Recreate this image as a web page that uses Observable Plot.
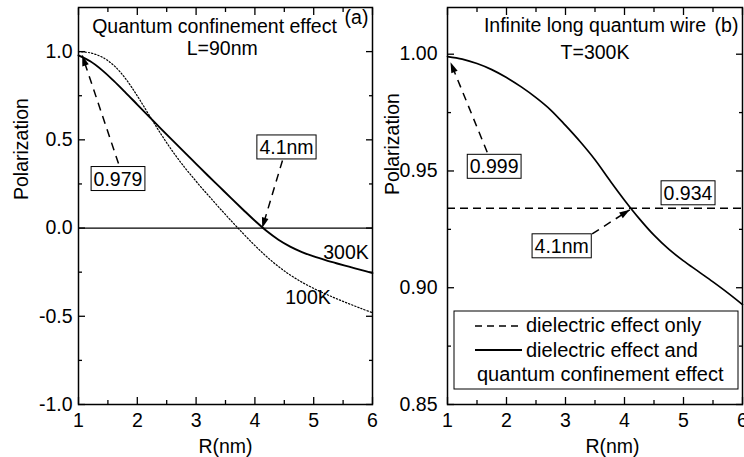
<!DOCTYPE html>
<html><head><meta charset="utf-8">
<script src="https://cdn.jsdelivr.net/npm/d3@7"></script>
<script src="https://cdn.jsdelivr.net/npm/@observablehq/plot@0.6"></script>
<style>
body{margin:0;background:#fff;}
#wrap{position:relative;width:744px;height:457px;overflow:hidden;font-family:"Liberation Sans",Arial,Helvetica,sans-serif;}
#wrap > svg{position:absolute;top:0;}
</style></head><body><div id="wrap"></div>
<script>
// ---------- data ----------
const xTicks = [1, 2, 3, 4, 5, 6];
const xTickLabels = ["1", "2", "3", "4", "5", "6"];
const xMinor = [1.5, 2.5, 3.5, 4.5, 5.5];

// (a) panel
const yTicksL = [-1, -0.5, 0, 0.5, 1];
const yTickLabelsL = ["-1.0", "-0.5", "0.0", "0.5", "1.0"];
const yMinorL = [-0.75, -0.25, 0.25, 0.75];
const R300 = [1.0,1.2,1.4,1.6,1.8,2.0,2.2,2.4,2.6,2.8,3.0,3.2,3.4,3.6,3.8,4.0,4.2,4.4,4.6,4.8,5.0,5.2,5.4,5.6,5.8,6.0];
const P300 = [0.979,0.945,0.895,0.834,0.768,0.700,0.632,0.564,0.497,0.430,0.364,0.298,0.233,0.168,0.104,0.041,-0.017,-0.066,-0.105,-0.136,-0.161,-0.182,-0.201,-0.219,-0.237,-0.255];
const R100 = [1.0,1.2,1.4,1.6,1.8,2.0,2.2,2.4,2.6,2.8,3.0,3.2,3.4,3.6,3.8,4.0,4.2,4.4,4.6,4.8,5.0,5.2,5.4,5.6,5.8,6.0];
const P100 = [1.0,0.993,0.969,0.922,0.847,0.749,0.641,0.534,0.435,0.346,0.265,0.188,0.113,0.040,-0.031,-0.099,-0.162,-0.218,-0.266,-0.307,-0.342,-0.373,-0.402,-0.429,-0.455,-0.480];
const labelTextL = ["Quantum confinement effect", "L=90nm", "(a)", "300K", "100K"];
const labelRL = [3.313, 3.444, 5.728, 5.549, 4.903];
const labelPL = [1.103, 0.978, 1.154, -0.178, -0.433];
const boxTextL = ["0.979", "4.1nm"];
const boxRL = [1.672, 4.537];
const boxPL = [0.241, 0.420];
const arrowFromRL = [1.680, 4.469], arrowFromPL = [0.366, 0.383];
const arrowToRL = [1.063, 4.124], arrowToPL = [0.978, 0.0];

// (b) panel
const yTicksR = [0.85, 0.90, 0.95, 1.00];
const yTickLabelsR = ["0.85", "0.90", "0.95", "1.00"];
const yMinorR = [0.875, 0.925, 0.975];
const dielectricOnly = 0.934;
const RQ = [1.0,1.25,1.5,1.75,2.0,2.25,2.5,2.75,3.0,3.25,3.5,3.75,4.0,4.25,4.5,4.75,5.0,5.25,5.5,5.75,6.0];
const PQ = [0.999,0.9979,0.9960,0.9934,0.9900,0.9860,0.9814,0.9761,0.9695,0.9625,0.9548,0.9460,0.9375,0.9296,0.9225,0.9165,0.9115,0.9070,0.9025,0.8978,0.8928];
const labelTextR = ["Infinite long quantum wire", "T=300K", "(b)"];
const labelRR = [3.5, 3.5, 5.729];
const labelPR = [1.00947, 0.99795, 1.00972];
const boxTextR = ["0.999", "0.934", "4.1nm"];
const boxRR = [1.791, 5.076, 2.935];
const boxPR = [0.949, 0.93766, 0.91496];
const arrowFromRR = [1.673, 3.452], arrowFromPR = [0.95804, 0.92309];
const arrowToRR = [1.051, 4.09], arrowToPR = [0.99658, 0.93337];
const legendLabels = ["dielectric effect only", "dielectric effect and", "quantum confinement effect"];

// ---------- helpers ----------
const FONT = '"Liberation Sans", Arial, Helvetica, sans-serif';
const FS = 19.5;
const H = 457, MT = 7, MB = 53;
const zipXY = (xs, ys) => xs.map((x, i) => ({x, y: ys[i]}));
const head = {draw(ctx) { ctx.moveTo(0, 0); ctx.lineTo(-3.4, 10.5); ctx.lineTo(3.4, 10.5); ctx.closePath(); }};

function arrows(fromR, fromP, toR, toP, xr, yDom) {
  const xs = Plot.scale({x: {domain: [1, 6], range: xr}});
  const ys = Plot.scale({y: {domain: yDom, range: [H - MB, MT]}});
  return fromR.map((r, i) => {
    const dx = xs.apply(toR[i]) - xs.apply(r);
    const dy = ys.apply(toP[i]) - ys.apply(fromP[i]);
    return {x1: r, y1: fromP[i], x2: toR[i], y2: toP[i], a: Math.atan2(dx, -dy) * 180 / Math.PI};
  });
}

function panel({width, ml, mr, yDom, yT, yTL, yMin, yPad, curves, labels, boxes, arr, yLab, xLab}) {
  return Plot.plot({
    width, height: H, marginTop: MT, marginBottom: MB, marginLeft: ml, marginRight: mr,
    style: {fontFamily: FONT, fontSize: FS + "px", background: "transparent", color: "black", overflow: "visible"},
    x: {domain: [1, 6]},
    y: {domain: yDom},
    marks: [
      ...curves,
      Plot.link(arr, {x1: "x1", y1: "y1", x2: "x2", y2: "y2", stroke: "black", strokeWidth: 1.5, strokeDasharray: "8,6"}),
      Plot.dot(arr, {x: "x2", y: "y2", rotate: "a", symbol: head, fill: "black", stroke: null, r: 5}),
      Plot.text(labels, {x: "x", y: "y", text: "t", textAnchor: "middle", lineAnchor: "bottom", fill: "black"}),
      Plot.text(boxes, {x: "x", y: "y", text: "t", textAnchor: "middle", lineAnchor: "bottom", fill: "black"}),
      Plot.frame({stroke: "black", strokeWidth: 1.5}),
      Plot.axisX(xTicks, {anchor: "bottom", tickSize: -7, tickFormat: () => "", label: null, strokeWidth: 1.3}),
      Plot.axisX(xMinor, {anchor: "bottom", tickSize: -4, tickFormat: () => "", label: null, strokeWidth: 1.3}),
      Plot.axisX(xTicks, {anchor: "top", tickSize: -7, tickFormat: () => "", label: null, strokeWidth: 1.3}),
      Plot.axisX(xMinor, {anchor: "top", tickSize: -4, tickFormat: () => "", label: null, strokeWidth: 1.3}),
      Plot.axisY(yT, {anchor: "left", tickSize: -7, tickFormat: () => "", label: null, strokeWidth: 1.3}),
      Plot.axisY(yMin, {anchor: "left", tickSize: -4, tickFormat: () => "", label: null, strokeWidth: 1.3}),
      Plot.axisY(yT, {anchor: "right", tickSize: -7, tickFormat: () => "", label: null, strokeWidth: 1.3}),
      Plot.axisY(yMin, {anchor: "right", tickSize: -4, tickFormat: () => "", label: null, strokeWidth: 1.3}),
      Plot.axisX(xTicks, {anchor: "bottom", tickSize: 0, tickPadding: 9, label: null, tickFormat: (d) => xTickLabels[xTicks.indexOf(d)], fill: "black"}),
      Plot.axisY(yT, {anchor: "left", tickSize: 0, tickPadding: yPad, label: null, tickFormat: (d) => yTL[yT.indexOf(d)], fill: "black"}),
      Plot.text(["Polarization"], {frameAnchor: "left", rotate: -90, dx: yLab[0], dy: yLab[1], fill: "black"}),
      Plot.text(["R(nm)"], {frameAnchor: "bottom", lineAnchor: "bottom", dx: xLab[0], dy: xLab[1], fill: "black"})
    ]
  });
}

function boxify(svg, names) {
  svg.querySelectorAll("text").forEach(t => {
    if (!names.includes(t.textContent)) return;
    const b = t.getBBox();
    const r = document.createElementNS("http://www.w3.org/2000/svg", "rect");
    r.setAttribute("x", b.x - 2.5); r.setAttribute("y", b.y - 1);
    r.setAttribute("width", b.width + 5); r.setAttribute("height", b.height + 2);
    r.setAttribute("fill", "white"); r.setAttribute("stroke", "black"); r.setAttribute("stroke-width", 1);
    if (t.getAttribute("transform")) r.setAttribute("transform", t.getAttribute("transform"));
    t.parentNode.insertBefore(r, t);
  });
}

const wrap = document.getElementById("wrap");

// ---------- panel (a) ----------
const WL = 373, MLL = 78, MRL = 1;
const left = panel({
  width: WL, ml: MLL, mr: MRL, yDom: [-1, 1.25], yT: yTicksL, yTL: yTickLabelsL, yMin: yMinorL, yPad: 6,
  curves: [
    Plot.ruleY([0], {stroke: "black", strokeWidth: 1.2}),
    Plot.line(zipXY(R100, P100), {x: "x", y: "y", stroke: "black", strokeWidth: 1.2, strokeDasharray: "1.3,2", curve: "catmull-rom"}),
    Plot.line(zipXY(R300, P300), {x: "x", y: "y", stroke: "black", strokeWidth: 1.9, curve: "catmull-rom"})
  ],
  labels: labelTextL.map((t, i) => ({t, x: labelRL[i], y: labelPL[i]})),
  boxes: boxTextL.map((t, i) => ({t, x: boxRL[i], y: boxPL[i]})),
  arr: arrows(arrowFromRL, arrowFromPL, arrowToRL, arrowToPL, [MLL, WL - MRL], [-1, 1.25]),
  yLab: [-57, -6], xLab: [0, 48]
});
left.style.left = "0px";
wrap.appendChild(left);

// ---------- panel (b) ----------
const WR = 371, MLR = 74, MRR = 2;
const right = panel({
  width: WR, ml: MLR, mr: MRR, yDom: [0.85, 1.02], yT: yTicksR, yTL: yTickLabelsR, yMin: yMinorR, yPad: 10,
  curves: [
    Plot.ruleY([dielectricOnly], {stroke: "black", strokeWidth: 1.5, strokeDasharray: "8,5"}),
    Plot.line(zipXY(RQ, PQ), {x: "x", y: "y", stroke: "black", strokeWidth: 1.7, curve: "catmull-rom"})
  ],
  labels: labelTextR.map((t, i) => ({t, x: labelRR[i], y: labelPR[i]})),
  boxes: boxTextR.map((t, i) => ({t, x: boxRR[i], y: boxPR[i]})),
  arr: arrows(arrowFromRR, arrowFromPR, arrowToRR, arrowToPR, [MLR, WR - MRR], [0.85, 1.02]),
  yLab: [-55, -11], xLab: [17.5, 48]
});
right.style.left = "373px";
wrap.appendChild(right);

boxify(left, boxTextL); boxify(right, boxTextR);

// ---------- legend (panel b) ----------
const lg = d3.select(wrap).append("svg").attr("width", 744).attr("height", 457)
  .style("left", "0px").style("pointer-events", "none")
  .style("font-family", FONT).style("font-size", "20px");
lg.append("rect").attr("x", 454).attr("y", 311).attr("width", 284).attr("height", 78)
  .attr("fill", "white").attr("stroke", "black").attr("stroke-width", 1);
lg.append("line").attr("x1", 475).attr("x2", 522).attr("y1", 326).attr("y2", 326)
  .attr("stroke", "black").attr("stroke-width", 1.5).attr("stroke-dasharray", "7,5");
lg.append("line").attr("x1", 475).attr("x2", 522).attr("y1", 350).attr("y2", 350)
  .attr("stroke", "black").attr("stroke-width", 1.8);
lg.append("text").attr("x", 526).attr("y", 332).text(legendLabels[0]);
lg.append("text").attr("x", 526).attr("y", 357).text(legendLabels[1]);
lg.append("text").attr("x", 477).attr("y", 381).text(legendLabels[2]);
</script>
</body></html>
